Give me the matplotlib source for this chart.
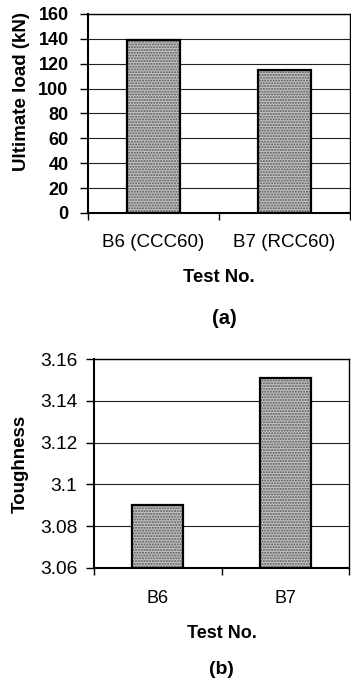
import numpy as np
import matplotlib.pyplot as plt
from matplotlib.ticker import FixedLocator

plt.rcParams['font.family'] = ['Liberation Sans', 'DejaVu Sans']

# (a) ultimate load
cats_a = ['B6 (CCC60)', 'B7 (RCC60)']
load = [139, 115]
yticks_a = [0, 20, 40, 60, 80, 100, 120, 140, 160]

# (b) toughness
cats_b = ['B6', 'B7']
tough = [3.09, 3.151]
yticks_b = [3.06, 3.08, 3.1, 3.12, 3.14, 3.16]
ytlabels_b = ['3.06', '3.08', '3.1', '3.12', '3.14', '3.16']

fig = plt.figure(figsize=(3.51, 6.82), dpi=100)

def style(ax, cats, xpad, ypad):
    x = np.arange(len(cats))
    ax.set_xlim(-0.5, len(cats) - 0.5)
    ax.set_xticks(x)
    ax.set_xticklabels(cats)
    ax.xaxis.set_minor_locator(FixedLocator(np.arange(len(cats) + 1) - 0.5))
    ax.tick_params(axis='x', which='major', length=0, pad=xpad)
    ax.tick_params(axis='x', which='minor', length=5, width=1, direction='out')
    ax.tick_params(axis='y', length=6, width=1, direction='out', pad=ypad)
    ax.yaxis.grid(True, color='#222222', lw=0.8)
    ax.set_axisbelow(True)
    for s in ax.spines.values():
        s.set_linewidth(1.0)
    ax.spines['left'].set_linewidth(1.5)
    ax.spines['bottom'].set_linewidth(1.5)
    return x

def bars(ax, x, vals, base=0):
    h = [v - base for v in vals]
    ax.bar(x, h, bottom=base, width=0.4, color='#c2c2c2', edgecolor='#555555',
           hatch='......', lw=0, zorder=2)
    ax.bar(x, h, bottom=base, width=0.4, fill=False, edgecolor='black', lw=1.6, zorder=3)

ax1 = fig.add_axes([88/351, 1-213/682, 262/351, 199/682])
x1 = style(ax1, cats_a, 15, 8)
bars(ax1, x1, load)
ax1.set_ylim(0, 160)
ax1.set_yticks(yticks_a)
for t in ax1.get_yticklabels():
    t.set_fontsize(13)
    t.set_fontweight('bold')
for t in ax1.get_xticklabels():
    t.set_fontsize(13.5)
ax1.set_ylabel('Ultimate load (kN)', fontsize=13.5, fontweight='bold')
ax1.yaxis.set_label_coords(-0.22, 0.613)
ax1.set_xlabel('Test No.', fontsize=13.3, fontweight='bold', labelpad=13)
fig.text(0.64, 1-318/682, '(a)', fontsize=14.5, fontweight='bold', ha='center', va='center')

ax2 = fig.add_axes([94/351, 1-567.7/682, 255/351, 208.4/682])
x2 = style(ax2, cats_b, 16, 6)
bars(ax2, x2, tough, base=3.06)
ax2.set_ylim(3.06, 3.16)
ax2.set_yticks(yticks_b)
ax2.set_yticklabels(ytlabels_b)
for t in ax2.get_yticklabels():
    t.set_fontsize(13.8)
for t in ax2.get_xticklabels():
    t.set_fontsize(13)
ax2.set_ylabel('Toughness', fontsize=13.5, fontweight='bold', labelpad=8)
ax2.set_xlabel('Test No.', fontsize=13, fontweight='bold', labelpad=13)
fig.text(0.63, 1-670/682, '(b)', fontsize=14, fontweight='bold', ha='center', va='center')

fig.savefig('out.png', dpi=100)
